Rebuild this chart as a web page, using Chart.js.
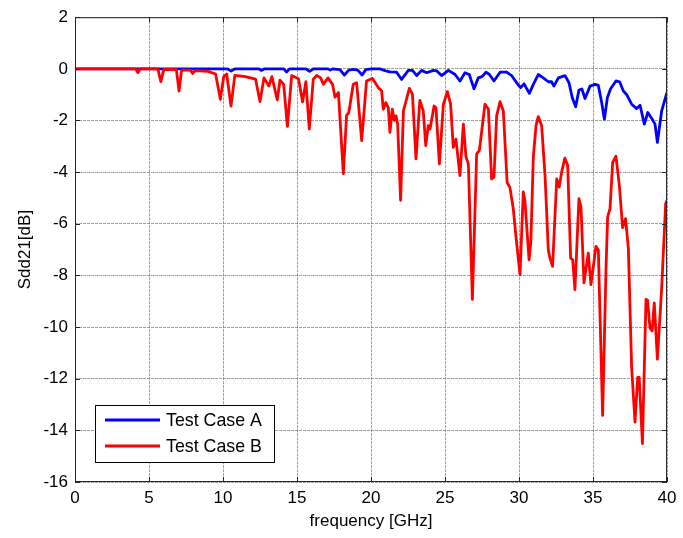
<!DOCTYPE html>
<html>
<head>
<meta charset="utf-8">
<script src="https://cdn.jsdelivr.net/npm/chart.js@4"></script>
<style>
html,body{margin:0;padding:0;background:#fff;}
#wrap{width:683px;height:538px;}
</style>
</head>
<body>
<div id="wrap"><canvas id="c" width="683" height="538"></canvas></div>
<script>
// Series labels
const seriesNames = ['Test Case A', 'Test Case B'];
const seriesColors = ['#0000ff', '#ff0000'];

// Axis tick labels
const xTicks = [0, 5, 10, 15, 20, 25, 30, 35, 40];
const yTicks = [2, 0, -2, -4, -6, -8, -10, -12, -14, -16];

// Test Case A (blue): frequency [GHz] and Sdd21 [dB]
const aFreq = [0, 10.3, 10.55, 10.8, 12.4, 12.6, 12.8, 14.1, 14.3, 14.5, 15.6, 15.85, 16.1, 17.1, 17.25, 17.4,
  17.9, 18.2, 18.5, 18.8, 19.1, 19.4, 19.65, 20.0, 20.6, 21.0, 21.28, 21.73, 22.07, 22.52, 22.8, 23.09, 23.42,
  23.76, 24.21, 24.45, 24.77, 25.23, 25.68, 26.01, 26.35, 26.64, 26.96, 27.25, 27.5, 27.77, 28.0, 28.31, 28.72,
  29.17, 29.5, 29.84, 30.11, 30.34, 30.7, 30.97, 31.3, 31.64, 31.98, 32.2, 32.36, 32.66, 33.11, 33.38, 33.6,
  33.83, 34.05, 34.25, 34.46, 34.8, 35.14, 35.36, 35.59, 35.77, 35.97, 36.19, 36.55, 36.8, 37.05, 37.27, 37.61,
  37.95, 38.18, 38.47, 38.7, 38.97, 39.19, 39.35, 39.64, 39.93, 40.0];
const aSdd21 = [0, 0, -0.09, 0, 0, -0.06, 0, 0, -0.12, 0, 0, -0.1, 0, 0, -0.05, 0,
  -0.03, -0.24, -0.05, -0.02, -0.05, -0.24, -0.03, 0, 0, -0.08, -0.12, -0.13, -0.41, -0.06, -0.06, -0.26, -0.06,
  -0.15, -0.06, -0.08, -0.26, -0.06, -0.22, -0.47, -0.15, -0.22, -0.77, -0.35, -0.3, -0.13, -0.22, -0.47, -0.13,
  -0.13, -0.26, -0.54, -0.73, -0.58, -0.95, -0.6, -0.22, -0.35, -0.5, -0.5, -0.67, -0.35, -0.26, -0.54, -1.12,
  -1.47, -0.82, -0.78, -1.15, -0.67, -0.6, -0.64, -1.31, -1.95, -1.12, -0.77, -0.47, -0.5, -0.86, -0.99, -1.37,
  -1.54, -1.41, -2.14, -1.69, -1.92, -2.14, -2.85, -1.63, -1.05, -0.92];

// Test Case B (red): frequency [GHz] and Sdd21 [dB]
const bFreq = [0, 4.1, 4.25, 4.4, 5.6, 5.8, 6.0, 6.85, 7.03, 7.2, 7.8, 7.95, 8.1, 9.0, 9.5, 9.82, 10.05, 10.25,
  10.54, 10.8, 11.5, 12.2, 12.5, 12.77, 13.1, 13.3, 13.67, 13.85, 14.1, 14.35, 14.64, 15.1, 15.38, 15.6, 15.83,
  16.1, 16.33, 16.6, 16.78, 17.1, 17.4, 17.57, 17.8, 18.13, 18.35, 18.5, 18.8, 19.03, 19.37, 19.7, 20.1, 20.5,
  20.72, 20.83, 21.0, 21.17, 21.28, 21.44, 21.58, 21.69, 21.8, 22.0, 22.19, 22.59, 22.8, 23.04, 23.3, 23.53,
  23.7, 23.87, 23.99, 24.26, 24.39, 24.62, 24.89, 25.16, 25.38, 25.56, 25.74, 26.01, 26.24, 26.42, 26.58, 26.85,
  27.14, 27.32, 27.7, 27.93, 28.15, 28.31, 28.49, 28.72, 28.94, 29.2, 29.39, 29.62, 29.84, 30.07, 30.29, 30.4,
  30.68, 30.8, 30.97, 31.15, 31.3, 31.53, 31.76, 31.98, 32.09, 32.27, 32.55, 32.72, 32.88, 33.1, 33.29, 33.49,
  33.63, 33.78, 34.05, 34.19, 34.39, 34.68, 34.86, 35.2, 35.36, 35.65, 35.88, 35.99, 36.15, 36.33, 36.55, 36.78,
  37.0, 37.2, 37.39, 37.61, 37.84, 38.02, 38.12, 38.34, 38.58, 38.68, 38.85, 39.0, 39.14, 39.35, 39.64, 39.91, 40.0];
const bSdd21 = [0, 0, -0.15, 0, 0, -0.5, -0.02, -0.03, -0.86, -0.05, -0.05, -0.18, -0.07, -0.1, -0.2, -1.18, -0.3, -0.2,
  -1.44, -0.25, -0.3, -0.4, -1.27, -0.35, -0.67, -0.3, -1.2, -0.44, -0.6, -2.23, -0.26, -0.38, -1.28, -0.5, -2.33,
  -0.4, -0.26, -0.35, -0.6, -0.35, -0.6, -1.1, -0.92, -4.06, -1.8, -1.7, -0.6, -0.54, -2.78, -0.47, -0.37, -0.73,
  -0.86, -1.56, -1.31, -1.5, -2.46, -1.56, -2.0, -1.82, -2.14, -5.09, -1.63, -0.76, -0.99, -3.49, -1.22, -1.63,
  -2.97, -2.2, -2.33, -1.44, -1.5, -3.68, -1.37, -0.88, -1.37, -3.04, -2.72, -4.13, -2.14, -3.42, -3.68, -8.93,
  -3.29, -3.17, -1.37, -1.56, -4.26, -4.19, -1.82, -1.27, -1.63, -4.4, -4.6, -5.45, -6.75, -7.97, -4.77, -5.1,
  -7.4, -6.69, -3.4, -2.2, -1.85, -2.2, -4.13, -7.01, -7.33, -7.65, -4.26, -4.58, -4.0, -3.46, -3.74, -7.33,
  -7.4, -8.55, -5.03, -5.35, -8.29, -7.14, -8.36, -6.88, -7.01, -13.42, -7.72, -5.73, -5.41, -3.62, -3.38, -4.51,
  -6.15, -5.8, -6.95, -11.56, -13.68, -11.95, -11.95, -14.51, -8.93, -8.95, -10.03, -10.15, -9.06, -11.24, -8.49, -5.22, -5.1];

const FONT = 'Liberation Sans, Arial, Helvetica, sans-serif';
const FS = 17;

function toPoints(xs, ys) { return xs.map((x, i) => ({x: x, y: ys[i]})); }

// Axes frame with inward tick marks (MATLAB-style box)
const framePlugin = {
  id: 'frame',
  afterDatasetsDraw(chart) {
    const {ctx, chartArea: a, scales} = chart;
    ctx.save();
    ctx.strokeStyle = '#262626';
    ctx.lineWidth = 1;
    ctx.strokeRect(a.left + 0.5, a.top + 0.5, a.right - a.left - 1, a.bottom - a.top - 1);
    const tl = 5;
    ctx.beginPath();
    xTicks.forEach(v => {
      const px = Math.round(scales.x.getPixelForValue(v)) + 0.5;
      ctx.moveTo(px, a.bottom); ctx.lineTo(px, a.bottom - tl);
      ctx.moveTo(px, a.top); ctx.lineTo(px, a.top + tl);
    });
    yTicks.forEach(v => {
      const py = Math.round(scales.y.getPixelForValue(v)) + 0.5;
      ctx.moveTo(a.left, py); ctx.lineTo(a.left + tl, py);
      ctx.moveTo(a.right, py); ctx.lineTo(a.right - tl, py);
    });
    ctx.stroke();
    ctx.restore();
  }
};

// Legend box inside the plot area, lower left
const legendPlugin = {
  id: 'boxLegend',
  afterDraw(chart) {
    const {ctx, chartArea: a} = chart;
    const bx = a.left + 20, by = a.bottom - 77, bw = 179, bh = 57;
    ctx.save();
    ctx.fillStyle = '#fff';
    ctx.fillRect(bx, by, bw, bh);
    ctx.strokeStyle = '#000';
    ctx.lineWidth = 1;
    ctx.strokeRect(bx + 0.5, by + 0.5, bw, bh);
    const items = [chart.data.datasets[0], chart.data.datasets[1]];
    items.forEach((ds, i) => {
      const cy = by + 15 + i * 26;
      ctx.strokeStyle = ds.borderColor;
      ctx.lineWidth = 3;
      ctx.beginPath();
      ctx.moveTo(bx + 10, cy); ctx.lineTo(bx + 65, cy);
      ctx.stroke();
      ctx.fillStyle = '#000';
      ctx.font = '17.8px ' + FONT;
      ctx.textBaseline = 'middle';
      ctx.textAlign = 'left';
      ctx.fillText(ds.label, bx + 71, cy + 1);
    });
    ctx.restore();
  }
};

new Chart(document.getElementById('c'), {
  type: 'line',
  data: {
    datasets: [
      {label: seriesNames[0], data: toPoints(aFreq, aSdd21), borderColor: seriesColors[0], backgroundColor: seriesColors[0],
       borderWidth: 2.8, pointRadius: 0, tension: 0, fill: false, order: 1, borderJoinStyle: 'round', borderCapStyle: 'round'},
      {label: seriesNames[1], data: toPoints(bFreq, bSdd21), borderColor: seriesColors[1], backgroundColor: seriesColors[1],
       borderWidth: 2.8, pointRadius: 0, tension: 0, fill: false, order: 0, borderJoinStyle: 'round', borderCapStyle: 'round'}
    ]
  },
  options: {
    responsive: false,
    animation: false,
    events: [],
    layout: {padding: {left: 0, top: 15, right: 16, bottom: 0}},
    plugins: {legend: {display: false}, tooltip: {enabled: false}},
    scales: {
      x: {
        type: 'linear', min: 0, max: 40,
        afterFit(s) { s.height = 56; },
        afterBuildTicks(s) { s.ticks = xTicks.map(v => ({value: v})); },
        ticks: {color: '#000', font: {family: FONT, size: FS}, padding: 6, maxRotation: 0},
        grid: {color: 'rgba(120,120,120,0.7)', lineWidth: 1, drawTicks: false},
        border: {display: false, dash: [3, 1]},
        title: {display: true, text: 'frequency [GHz]', color: '#000', font: {family: FONT, size: FS}, padding: {bottom: 6}}
      },
      y: {
        type: 'linear', min: -16, max: 2,
        afterFit(s) { s.width = 75; },
        afterBuildTicks(s) { s.ticks = yTicks.map(v => ({value: v})); },
        ticks: {color: '#000', font: {family: FONT, size: FS}, padding: 7},
        grid: {color: 'rgba(120,120,120,0.7)', lineWidth: 1, drawTicks: false},
        border: {display: false, dash: [3, 1]},
        title: {display: true, text: 'Sdd21[dB]', color: '#000', font: {family: FONT, size: FS}, padding: {top: 15}}
      }
    }
  },
  plugins: [framePlugin, legendPlugin]
});
</script>
</body>
</html>
